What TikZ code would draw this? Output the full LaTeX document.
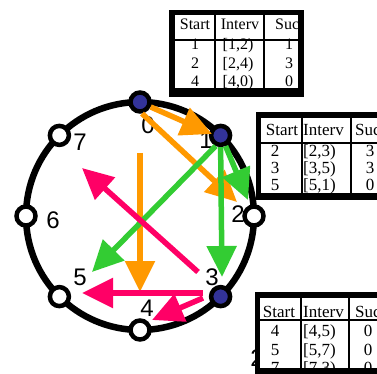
\documentclass[tikz,border=0pt]{standalone}
\usepackage{fontspec}
\setmainfont{Liberation Serif}
\setsansfont{Liberation Sans}
\usetikzlibrary{arrows.meta}
\definecolor{livenavy}{HTML}{333399}
\definecolor{fingorange}{HTML}{FF9900}
\definecolor{finggreen}{HTML}{33CC33}
\definecolor{fingpink}{HTML}{FF0066}
\begin{document}
\begin{tikzpicture}[x=1pt,y=-1pt,
  peer/.style={circle,draw,line width=4.5pt,fill=white,minimum size=19pt,inner sep=0pt},
  live/.style={peer,fill=livenavy},
  idlbl/.style={font=\fontsize{24}{24}\sffamily,inner sep=0pt},
  finger/.style={line width=5.5pt,-{Triangle[length=31pt,width=29pt]}},
  cell/.style={font=\fontsize{16}{16}\selectfont,inner sep=0pt,anchor=base},
  bigcell/.style={cell,font=\fontsize{17}{17}\selectfont},
  rule/.style={line width=2pt}]
\useasboundingbox (0,0) rectangle (377,374);
% identifier ring
\draw[line width=6.5pt] (140,216) circle[radius=114];
\foreach \k/\s in {0/live,1/live,2/peer,3/live,4/peer,5/peer,6/peer,7/peer}
  {\node[\s] (n\k) at ({140+114*sin(45*\k)},{216-114*cos(45*\k)}) {};}
\foreach \k/\x/\y in {0/148/125,1/206/140,2/238/214,3/212/277,4/147/308,5/80/277,6/53/220,7/80/142}
  {\node[idlbl] (l\k) at (\x,\y) {\k};}
% finger pointers
\coordinate (oa) at (212,134); \coordinate (ob) at (237,202);
\coordinate (oc0) at (140,153); \coordinate (oc) at (140,292);
\coordinate (ga) at (92,272); \coordinate (gb) at (222,277); \coordinate (gc) at (248,200);
\coordinate (pa0) at (198,272); \coordinate (pa) at (82,168);
\coordinate (pb0) at (203,293); \coordinate (pb) at (82,293);
\coordinate (pc0) at (203,298); \coordinate (pc) at (152,320);
\draw[finger,fingorange] (n0.-25) -- (oa);
\draw[finger,fingorange] (n0.-80) -- (ob);
\draw[finger,fingorange] (oc0) -- (oc);
\draw[finger,finggreen] (n1.-115) -- (ga);
\draw[finger,finggreen] (n1.south) -- (gb);
\draw[finger,finggreen] (n1.-65) -- (gc);
\draw[finger,fingpink] (pa0) -- (pa);
\draw[finger,fingpink] (pb0) -- (pb);
\draw[finger,fingpink] (pc0) -- (pc);
% finger table of node 0
\fill (169,10) rectangle (304,97);
\fill[white] (175,15) rectangle (298,88);
\begin{scope}
\clip (175,15) rectangle (298,88);
\node[cell] (t0s) at (195,30) {Start};
\node[cell] (t0i) at (240,30) {Interv};
\node[cell,anchor=base west] (t0c) at (275,30) {Succ};
\foreach \y/\a/\b/\c in {50/1/{[1,2)}/1,69/2/{[2,4)}/3,87/4/{[4,0)}/0}
  {\node[cell] at (195,\y) {\a}; \node[cell] at (238,\y) {\b}; \node[cell] at (289,\y) {\c};}
\end{scope}
\draw[rule] (215,15) -- (215,88) (264,15) -- (264,88) (175,40) -- (298,40);
% finger table of node 1
\fill (256,112) rectangle (380,200);
\fill[white] (261,118) rectangle (380,193);
\begin{scope}
\clip (261,118) rectangle (380,193);
\node[bigcell] (t1s) at (282,136) {Start};
\node[bigcell,anchor=base west] (t1i) at (303,136) {Interv};
\node[bigcell,anchor=base west] (t1c) at (355,136) {Succ};
\foreach \y/\a/\b/\c in {157/2/{[2,3)}/3,173/3/{[3,5)}/3,190/5/{[5,1)}/0}
  {\node[bigcell] at (275,\y) {\a}; \node[bigcell,anchor=base west] at (303,\y) {\b}; \node[bigcell] at (370,\y) {\c};}
\end{scope}
\draw[rule] (302,118) -- (302,193) (351,118) -- (351,193) (261,143) -- (380,143);
% finger table of node 3
\node[idlbl,anchor=base] (l2b) at (257,366) {2};
\fill (255,292) rectangle (380,380);
\fill[white] (260,298) rectangle (380,368);
\begin{scope}
\clip (260,298) rectangle (380,368);
\node[bigcell] (t3s) at (279,317) {Start};
\node[bigcell,anchor=base west] (t3i) at (303,317) {Interv};
\node[bigcell,anchor=base west] (t3c) at (355,317) {Succ};
\foreach \y/\a/\b/\c in {336/4/{[4,5)}/0,355/5/{[5,7)}/0,373/7/{[7,3)}/0}
  {\node[bigcell] at (275,\y) {\a}; \node[bigcell,anchor=base west] at (303,\y) {\b}; \node[bigcell] at (368,\y) {\c};}
\end{scope}
\draw[rule] (301,298) -- (301,368) (349,298) -- (349,368) (260,320) -- (380,320);
\end{tikzpicture}
\end{document}
